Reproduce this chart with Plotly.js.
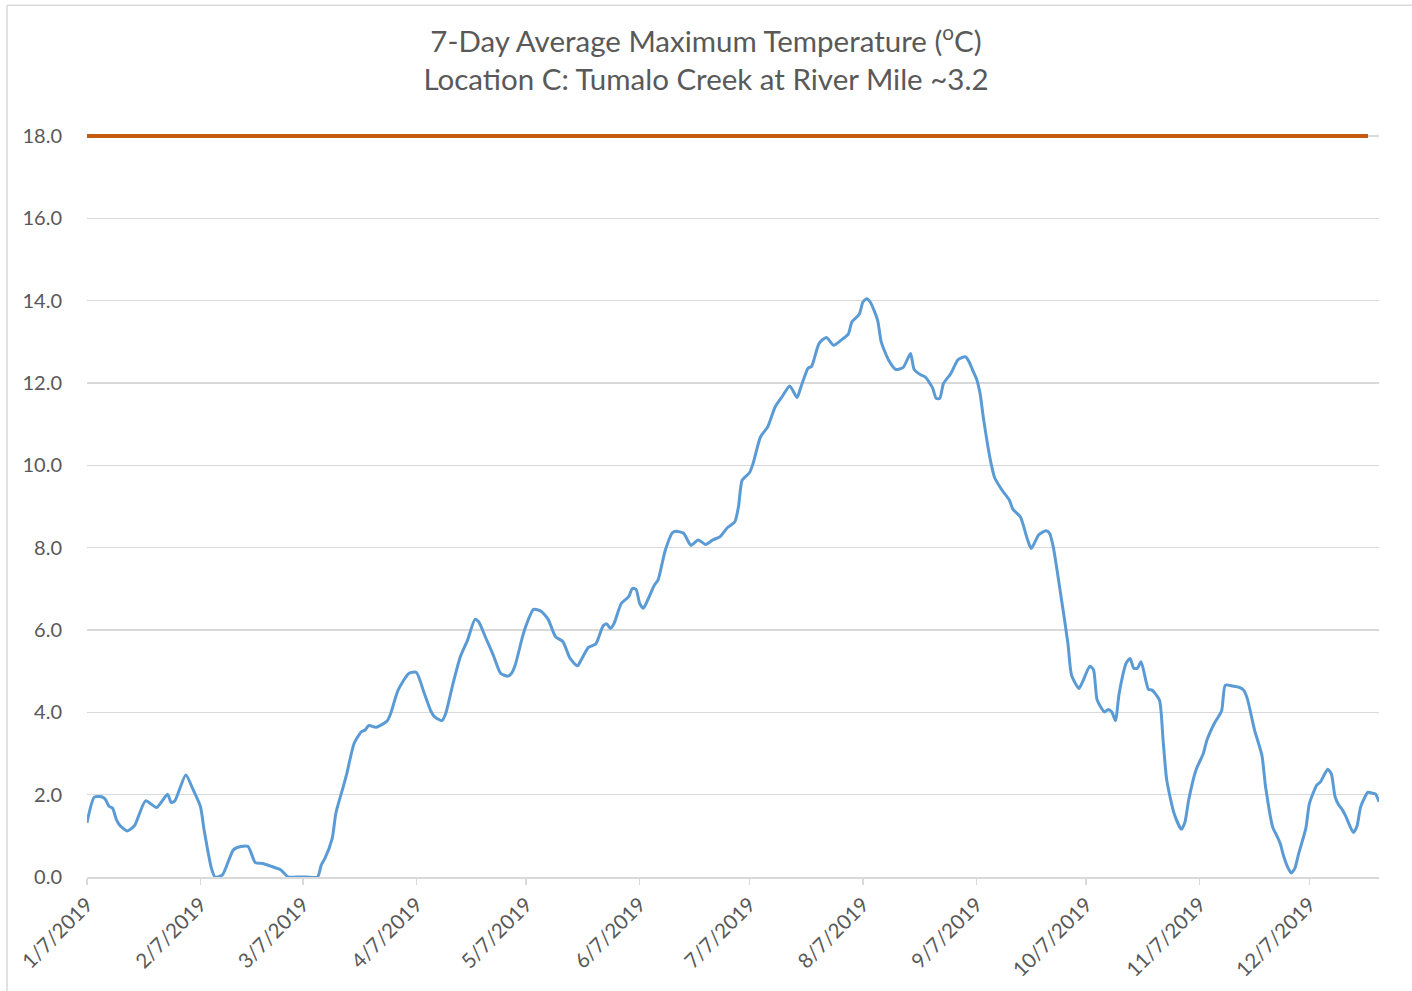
<!DOCTYPE html>
<html>
<head>
<meta charset="utf-8">
<script src="https://cdn.plot.ly/plotly-3.0.1.min.js"></script>
<style>
  html, body { margin: 0; padding: 0; background: #ffffff; }
  #chart { width: 1412px; height: 991px; }
</style>
</head>
<body>
<div id="chart"></div>
<script>
// ---- Data ----
const chartTitle = "7-Day Average Maximum Temperature (<sup>o</sup>C)<br>Location C: Tumalo Creek at River Mile ~3.2";

const tempDates = [
  "2019-01-07","2019-01-09","2019-01-11","2019-01-12","2019-01-13","2019-01-14","2019-01-15","2019-01-16","2019-01-18","2019-01-20",
  "2019-01-23","2019-01-26","2019-01-29","2019-01-30","2019-01-31","2019-02-03","2019-02-05","2019-02-07","2019-02-08","2019-02-10",
  "2019-02-11","2019-02-13","2019-02-16","2019-02-18","2019-02-20","2019-02-22","2019-02-24","2019-02-26","2019-03-01","2019-03-03",
  "2019-03-06","2019-03-08","2019-03-11","2019-03-12","2019-03-13","2019-03-15","2019-03-16","2019-03-18","2019-03-19","2019-03-21",
  "2019-03-23","2019-03-24","2019-03-25","2019-03-27","2019-03-30","2019-03-31","2019-04-02","2019-04-05","2019-04-07","2019-04-09",
  "2019-04-11","2019-04-12","2019-04-14","2019-04-15","2019-04-17","2019-04-19","2019-04-21","2019-04-23","2019-04-24","2019-04-26",
  "2019-04-28","2019-04-30","2019-05-02","2019-05-03","2019-05-04","2019-05-06","2019-05-07","2019-05-09","2019-05-11","2019-05-13",
  "2019-05-15","2019-05-17","2019-05-19","2019-05-21","2019-05-22","2019-05-24","2019-05-26","2019-05-28","2019-05-29","2019-05-30",
  "2019-05-31","2019-06-02","2019-06-04","2019-06-05","2019-06-06","2019-06-07","2019-06-08","2019-06-09","2019-06-11","2019-06-12",
  "2019-06-14","2019-06-16","2019-06-17","2019-06-19","2019-06-21","2019-06-23","2019-06-25","2019-06-27","2019-06-29","2019-07-01",
  "2019-07-03","2019-07-04","2019-07-05","2019-07-07","2019-07-08","2019-07-10","2019-07-12","2019-07-14","2019-07-16","2019-07-18",
  "2019-07-20","2019-07-21","2019-07-23","2019-07-24","2019-07-26","2019-07-28","2019-07-30","2019-08-01","2019-08-03","2019-08-04",
  "2019-08-06","2019-08-07","2019-08-08","2019-08-09","2019-08-11","2019-08-12","2019-08-14","2019-08-16","2019-08-18","2019-08-20",
  "2019-08-21","2019-08-23","2019-08-24","2019-08-26","2019-08-27","2019-08-28","2019-08-29","2019-08-31","2019-09-02","2019-09-04",
  "2019-09-05","2019-09-06","2019-09-07","2019-09-08","2019-09-09","2019-09-11","2019-09-12","2019-09-14","2019-09-16","2019-09-17",
  "2019-09-19","2019-09-21","2019-09-22","2019-09-24","2019-09-26","2019-09-27","2019-09-28","2019-09-30","2019-10-02","2019-10-03",
  "2019-10-05","2019-10-06","2019-10-08","2019-10-09","2019-10-10","2019-10-12","2019-10-13","2019-10-14","2019-10-15","2019-10-16",
  "2019-10-18","2019-10-19","2019-10-20","2019-10-21","2019-10-22","2019-10-24","2019-10-25","2019-10-27","2019-10-28","2019-10-29",
  "2019-10-31","2019-11-02","2019-11-03","2019-11-04","2019-11-06","2019-11-08","2019-11-09","2019-11-11","2019-11-13","2019-11-14",
  "2019-11-16","2019-11-18","2019-11-19","2019-11-20","2019-11-22","2019-11-24","2019-11-25","2019-11-27","2019-11-28","2019-11-29",
  "2019-11-30","2019-12-01","2019-12-02","2019-12-03","2019-12-04","2019-12-06","2019-12-07","2019-12-09","2019-12-10","2019-12-12",
  "2019-12-13","2019-12-14","2019-12-15","2019-12-16","2019-12-17","2019-12-19","2019-12-20","2019-12-21","2019-12-23","2019-12-24",
  "2019-12-25","2019-12-26"
];

const tempValues = [
  1.32,1.94,1.95,1.89,1.72,1.67,1.40,1.25,1.12,1.25,
  1.85,1.69,2.01,1.81,1.85,2.48,2.12,1.71,1.14,0.21,
  0.00,0.05,0.66,0.74,0.74,0.35,0.33,0.27,0.17,0.00,
  0.00,0.00,0.00,0.29,0.45,0.94,1.55,2.19,2.52,3.25,
  3.53,3.57,3.68,3.64,3.79,3.98,4.54,4.95,4.97,4.50,
  4.02,3.89,3.80,3.97,4.70,5.35,5.76,6.26,6.20,5.80,
  5.39,4.95,4.88,4.95,5.15,5.84,6.12,6.50,6.46,6.26,
  5.84,5.72,5.31,5.13,5.27,5.58,5.66,6.10,6.15,6.04,
  6.16,6.65,6.81,7.01,6.99,6.65,6.53,6.69,7.09,7.21,
  7.94,8.37,8.40,8.35,8.06,8.19,8.08,8.19,8.27,8.49,
  8.63,9.00,9.64,9.82,10.05,10.69,10.94,11.42,11.68,11.93,
  11.65,11.89,12.36,12.41,12.96,13.11,12.92,13.04,13.19,13.49,
  13.67,13.97,14.05,13.97,13.53,13.00,12.56,12.33,12.38,12.72,
  12.33,12.19,12.15,11.89,11.63,11.63,11.99,12.23,12.57,12.64,
  12.52,12.31,12.11,11.75,11.10,10.05,9.70,9.40,9.16,8.93,
  8.75,8.19,7.98,8.31,8.41,8.35,8.02,6.89,5.68,4.90,
  4.58,4.74,5.12,5.03,4.30,4.01,4.07,4.01,3.80,4.46,
  5.21,5.31,5.07,5.07,5.23,4.56,4.54,4.30,3.33,2.36,
  1.55,1.16,1.34,1.87,2.60,3.00,3.33,3.73,4.04,4.66,
  4.64,4.60,4.54,4.34,3.57,2.96,2.20,1.20,1.02,0.82,
  0.49,0.25,0.10,0.21,0.55,1.18,1.79,2.23,2.31,2.62,
  2.50,1.95,1.75,1.63,1.46,1.08,1.24,1.71,2.06,2.04,
  2.02,1.83
];

const criterionDates = ["2019-01-07", "2019-12-23"];
const criterionValues = [18, 18];

const xRange = ["2019-01-07", "2019-12-26"];
const yRange = [0, 18.1];
const yTickValues = [0, 2, 4, 6, 8, 10, 12, 14, 16, 18];

// ---- Styling ----
const textColor = "#595959";
const gridColor = "#D9D9D9";
const fontFamily = "Lato, 'Open Sans', sans-serif";

const traces = [
  {
    x: criterionDates, y: criterionValues,
    type: "scatter", mode: "lines",
    line: { color: "#C55A11", width: 4 },
    hoverinfo: "x+y", showlegend: false
  },
  {
    x: tempDates, y: tempValues,
    type: "scatter", mode: "lines",
    line: { color: "#5B9BD5", width: 3, shape: "spline", smoothing: 0.6 },
    hoverinfo: "x+y", showlegend: false
  }
];

// plot area: left 87, right 1379, value 18 at y=136, value 0 at y=877
const L = 87, R = 1379, B = 877, W = 1412, H = 991;
const pxPerUnit = (877 - 136) / 18;
const T = B - pxPerUnit * yRange[1];
const px = v => (v - L) / (R - L);
const py = v => (B - v) / (B - T);

const layout = {
  width: W, height: H,
  paper_bgcolor: "#ffffff", plot_bgcolor: "#ffffff",
  margin: { l: L, r: W - R, t: T, b: H - B, pad: 0 },
  font: { family: fontFamily, color: textColor, size: 20 },
  title: {
    text: chartTitle,
    font: { family: fontFamily, size: 29.5, color: textColor },
    x: 0.5, xref: "container", xanchor: "center",
    y: 1 - 52 / H, yref: "container", yanchor: "top"
  },
  xaxis: {
    type: "date",
    range: xRange,
    tick0: "2019-01-07", dtick: "M1",
    tickformat: "%-m/%-d/%Y",
    tickangle: -45,
    ticks: "outside", ticklen: 6, tickcolor: gridColor, tickwidth: 1.5,
    showline: true, linecolor: gridColor, linewidth: 1.5,
    showgrid: false, zeroline: false,
    tickfont: { family: fontFamily, size: 20.5, color: textColor },
    fixedrange: true
  },
  yaxis: {
    range: yRange,
    tickvals: yTickValues,
    tickformat: ".1f",
    showgrid: true, gridcolor: gridColor, gridwidth: 1.3,
    zeroline: false, showline: false,
    ticks: "outside", ticklen: 20, tickcolor: "rgba(0,0,0,0)",
    tickfont: { family: fontFamily, size: 20, color: textColor },
    fixedrange: true
  },
  shapes: [
    { type: "line", xref: "paper", yref: "paper",
      x0: px(7), x1: px(7), y0: py(5), y1: py(H + 5),
      line: { color: gridColor, width: 1.5 } },
    { type: "line", xref: "paper", yref: "paper",
      x0: px(7), x1: px(W + 5), y0: py(5), y1: py(5),
      line: { color: gridColor, width: 1.5 } }
  ]
};

Plotly.newPlot("chart", traces, layout, { displayModeBar: false, staticPlot: true });
</script>
</body>
</html>
